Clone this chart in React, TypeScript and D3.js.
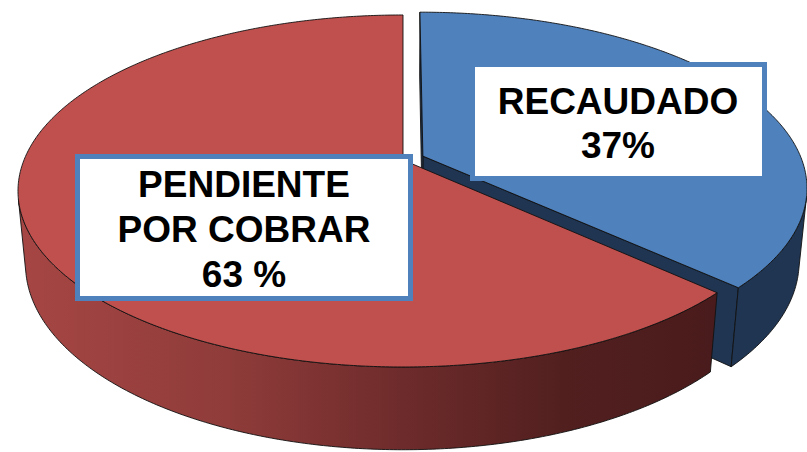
import React from "react";
import * as d3 from "d3";

const categories = ["RECAUDADO", "PENDIENTE POR COBRAR"];
const values = [37, 63];
const labelLines = [
  ["RECAUDADO", "37%"],
  ["PENDIENTE", "POR COBRAR", "63 %"],
];
const topColors = ["#4F81BD", "#C0504D"];
const sideColors = ["#1F3552", "url(#redSide)"];
const explode = [0.0575, 0];

const W = 807;
const H = 452;
const cx = 403;
const cy = 160;
const sinP = 0.45;
const cosP = Math.sqrt(1 - sinP * sinP);
const Dist = cosP / 0.176;
const f = 379 * Dist;
const thick = 0.218;

function proj(X: number, Y: number, Z: number): [number, number] {
  const d = Dist - (Y * sinP + Z * cosP);
  const up = Y * cosP - Z * sinP;
  return [cx + (f * X) / d, cy - (f * up) / d];
}

const camY = Dist * sinP;
const camZ = Dist * cosP;

function App() {
  const pie = d3.pie<number>().sort(null).startAngle(0).endAngle(2 * Math.PI);
  const arcs = pie(values);
  const line = d3.line<[number, number]>();

  const slices = arcs.map((a, i) => {
    const mid = (a.startAngle + a.endAngle) / 2;
    const ox = explode[i] * Math.sin(mid);
    const oz = -explode[i] * Math.cos(mid);
    const pt = (t: number, Y: number) => proj(ox + Math.sin(t), Y, oz - Math.cos(t));
    const steps = d3.range(a.startAngle, a.endAngle, Math.PI / 360).concat([a.endAngle]);
    const center = proj(ox, 0, oz);
    const topPts: [number, number][] = [center, ...steps.map((t) => pt(t, 0))];
    const top = line(topPts) + "Z";
    // outer wall visible part
    const vis = steps.filter(
      (t) => -ox * Math.sin(t) - 1 - Math.cos(t) * (camZ - oz) > 0
    );
    let outer: string | null = null;
    if (vis.length > 1) {
      const tp = vis.map((t) => pt(t, 0));
      const bp = vis.slice().reverse().map((t) => pt(t, -thick));
      outer = line([...tp, ...bp]) + "Z";
    }
    // radial walls
    const radials: string[] = [];
    const camVec = [-ox, camZ - oz];
    [
      { ang: a.endAngle, sign: 1 },
      { ang: a.startAngle, sign: -1 },
    ].forEach(({ ang, sign }) => {
      const n = [sign * Math.cos(ang), sign * Math.sin(ang)];
      const dot = n[0] * camVec[0] + n[1] * camVec[1];
      if (dot > 0.01) {
        const p = [
          proj(ox, 0, oz),
          pt(ang, 0),
          pt(ang, -thick),
          proj(ox, -thick, oz),
        ] as [number, number][];
        radials.push(line(p) + "Z");
      }
    });
    return { i, top, outer, radials };
  });

  const stroke = "#111";
  const sw = 0.9;

  const boxes = [
    { x: 472.5, y: 64.5, w: 292, h: 114, lines: labelLines[0], baselines: [114, 158], tx: 618 },
    { x: 77.5, y: 156.5, w: 333, h: 142, lines: labelLines[1], baselines: [197, 242, 287], tx: 244 },
  ];

  return (
    <svg
      width={W}
      height={H}
      style={{ position: "fixed", left: 0, top: 0, background: "#fff" }}
      aria-label={categories.join(" / ")}
    >
      <defs>
        <linearGradient id="redSide" gradientUnits="userSpaceOnUse" x1={18} y1={0} x2={717} y2={0}>
          <stop offset="0" stopColor="#A64644" />
          <stop offset="0.3" stopColor="#8F3C3A" />
          <stop offset="0.55" stopColor="#6E2B2B" />
          <stop offset="0.78" stopColor="#521F1F" />
          <stop offset="1" stopColor="#4A1B1C" />
        </linearGradient>
      </defs>
      <rect width={W} height={H} fill="#fff" />
      {slices.map((s) =>
        s.radials.map((r, k) => (
          <path key={`r${s.i}${k}`} d={r} fill={sideColors[s.i]} stroke={stroke} strokeWidth={sw} strokeLinejoin="round" />
        ))
      )}
      {slices.map((s) =>
        s.outer ? (
          <path key={`o${s.i}`} d={s.outer} fill={sideColors[s.i]} stroke={stroke} strokeWidth={sw} strokeLinejoin="round" />
        ) : null
      )}
      {slices.map((s) => (
        <path key={`t${s.i}`} d={s.top} fill={topColors[s.i]} stroke={stroke} strokeWidth={sw} strokeLinejoin="round" />
      ))}
      {boxes.map((b, k) => (
        <g key={`b${k}`}>
          <rect x={b.x} y={b.y} width={b.w} height={b.h} fill="#fff" stroke="#4F81BD" strokeWidth={5} />
          {b.lines.map((l, j) => (
            <text
              key={j}
              x={b.tx}
              y={b.baselines[j]}
              textAnchor="middle"
              fontFamily="'Liberation Sans', Arial, sans-serif"
              fontWeight="bold"
              fontSize={37}
              fill="#000"
            >
              {l}
            </text>
          ))}
        </g>
      ))}
    </svg>
  );
}

export default App;
